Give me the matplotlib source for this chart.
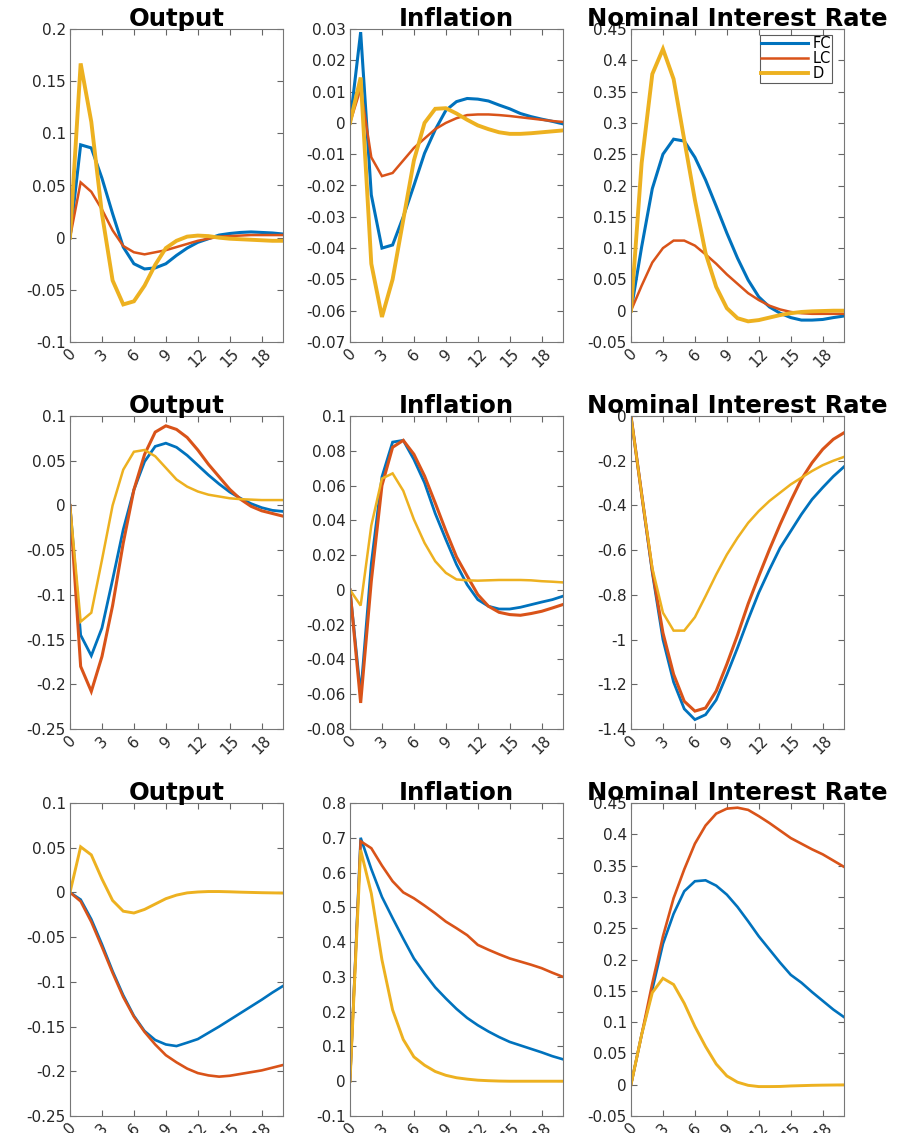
import numpy as np
import matplotlib
matplotlib.use("Agg")
import matplotlib.pyplot as plt
from matplotlib.ticker import FuncFormatter

# horizon 0..20
t = np.arange(21)
names = ["FC", "LC", "D"]
colors = ["#0072BD", "#D95319", "#EDB120"]
titles = ["Output", "Inflation", "Nominal Interest Rate"]

# ---- row 1 ----
out1_fc = [0, 0.089, 0.086, 0.057, 0.023, -0.009, -0.025, -0.030, -0.029, -0.025, -0.017,
           -0.010, -0.0045, -0.001, 0.0025, 0.004, 0.005, 0.0055, 0.005, 0.0045, 0.0035]
out1_lc = [0, 0.053, 0.044, 0.027, 0.007, -0.008, -0.014, -0.016, -0.014, -0.012, -0.009,
           -0.006, -0.003, -0.001, 0.001, 0.0015, 0.002, 0.0025, 0.0025, 0.0025, 0.0025]
out1_d = [0, 0.167, 0.111, 0.023, -0.041, -0.064, -0.061, -0.046, -0.026, -0.010, -0.003,
          0.001, 0.002, 0.0015, 0.0, -0.001, -0.0015, -0.002, -0.0025, -0.003, -0.003]

inf1_fc = [0, 0.029, -0.023, -0.040, -0.039, -0.030, -0.020, -0.0097, -0.0022, 0.004, 0.0068,
           0.0078, 0.0076, 0.007, 0.0057, 0.0045, 0.003, 0.002, 0.0012, 0.0005, -0.0003]
inf1_lc = [0, 0.011, -0.011, -0.017, -0.016, -0.012, -0.008, -0.005, -0.002, 0.0, 0.0015,
           0.0025, 0.0027, 0.0027, 0.0025, 0.0022, 0.0018, 0.0014, 0.001, 0.0006, 0.0003]
inf1_d = [0, 0.0145, -0.045, -0.062, -0.050, -0.031, -0.012, 0.0, 0.0045, 0.0047, 0.003,
          0.001, -0.0008, -0.002, -0.003, -0.0035, -0.0035, -0.0033, -0.003, -0.0027, -0.0024]

int1_fc = [0, 0.102, 0.195, 0.25, 0.274, 0.271, 0.245, 0.209, 0.167, 0.124, 0.084,
           0.049, 0.022, 0.006, -0.004, -0.011, -0.015, -0.015, -0.014, -0.011, -0.0085]
int1_lc = [0, 0.04, 0.077, 0.1, 0.112, 0.112, 0.104, 0.09, 0.075, 0.058, 0.043,
           0.028, 0.017, 0.008, 0.002, -0.002, -0.004, -0.005, -0.005, -0.005, -0.005]
int1_d = [0, 0.236, 0.378, 0.418, 0.37, 0.273, 0.177, 0.092, 0.038, 0.004, -0.012,
          -0.017, -0.015, -0.011, -0.007, -0.004, -0.002, -0.001, -0.0005, 0.0, 0.0]

# ---- row 2 ----
out2_fc = [0, -0.145, -0.168, -0.137, -0.083, -0.027, 0.0175, 0.049, 0.066, 0.0696, 0.065,
           0.056, 0.045, 0.034, 0.024, 0.015, 0.008, 0.002, -0.0025, -0.0055, -0.0067]
out2_lc = [0, -0.18, -0.208, -0.169, -0.112, -0.042, 0.0175, 0.057, 0.082, 0.089, 0.085,
           0.076, 0.062, 0.046, 0.032, 0.018, 0.007, -0.001, -0.006, -0.009, -0.012]
out2_d = [0, -0.13, -0.12, -0.061, 0.0, 0.04, 0.06, 0.062, 0.055, 0.042, 0.029,
          0.021, 0.0156, 0.012, 0.010, 0.008, 0.007, 0.0065, 0.006, 0.006, 0.006]

inf2_fc = [0, -0.060, 0.015, 0.065, 0.085, 0.086, 0.075, 0.0616, 0.044, 0.029, 0.0146,
           0.003, -0.0056, -0.0094, -0.011, -0.011, -0.010, -0.0085, -0.007, -0.0056, -0.0036]
inf2_lc = [0, -0.065, 0.005, 0.060, 0.082, 0.086, 0.078, 0.0655, 0.050, 0.034, 0.019,
           0.008, -0.0027, -0.0094, -0.0129, -0.0142, -0.0146, -0.0136, -0.0123, -0.0104, -0.0084]
inf2_d = [0, -0.009, 0.037, 0.064, 0.067, 0.057, 0.0405, 0.027, 0.0165, 0.0098, 0.006,
          0.0055, 0.0053, 0.0055, 0.0057, 0.0057, 0.0057, 0.0055, 0.005, 0.0047, 0.0043]

int2_fc = [0, -0.35, -0.70, -1.0, -1.19, -1.31, -1.358, -1.336, -1.27, -1.157, -1.037,
           -0.91, -0.79, -0.687, -0.59, -0.515, -0.44, -0.373, -0.32, -0.27, -0.227]
int2_lc = [0, -0.35, -0.69, -0.97, -1.155, -1.276, -1.32, -1.306, -1.23, -1.11, -0.98,
           -0.84, -0.716, -0.597, -0.485, -0.38, -0.283, -0.209, -0.149, -0.104, -0.075]
int2_d = [0, -0.35, -0.68, -0.88, -0.96, -0.96, -0.90, -0.806, -0.709, -0.62, -0.545,
          -0.478, -0.425, -0.38, -0.343, -0.306, -0.276, -0.246, -0.22, -0.2, -0.183]

# ---- row 3 ----
out3_fc = [0, -0.008, -0.03, -0.058, -0.088, -0.115, -0.138, -0.155, -0.165, -0.17, -0.1718,
           -0.168, -0.164, -0.157, -0.150, -0.1425, -0.135, -0.1275, -0.120, -0.112, -0.1046]
out3_lc = [0, -0.01, -0.033, -0.061, -0.09, -0.117, -0.139, -0.156, -0.17, -0.182, -0.19,
           -0.197, -0.202, -0.2046, -0.206, -0.205, -0.203, -0.201, -0.199, -0.196, -0.193]
out3_d = [0, 0.051, 0.042, 0.015, -0.009, -0.021, -0.023, -0.019, -0.013, -0.007, -0.003,
          -0.0005, 0.0005, 0.001, 0.001, 0.0007, 0.0003, 0.0, -0.0003, -0.0005, -0.0007]

inf3_fc = [0, 0.70, 0.61, 0.53, 0.469, 0.41, 0.353, 0.31, 0.27, 0.238, 0.208,
           0.182, 0.161, 0.143, 0.127, 0.113, 0.103, 0.093, 0.083, 0.072, 0.063]
inf3_lc = [0, 0.69, 0.67, 0.62, 0.575, 0.543, 0.526, 0.505, 0.483, 0.459, 0.44,
           0.42, 0.392, 0.378, 0.365, 0.353, 0.344, 0.335, 0.325, 0.312, 0.30]
inf3_d = [0, 0.665, 0.54, 0.349, 0.205, 0.12, 0.07, 0.046, 0.028, 0.017, 0.01,
          0.006, 0.003, 0.0015, 0.0005, 0.0, 0.0, 0.0, 0.0, 0.0, 0.0]

int3_fc = [0, 0.08, 0.152, 0.225, 0.273, 0.309, 0.325, 0.3265, 0.318, 0.3036, 0.284,
           0.261, 0.237, 0.216, 0.195, 0.1755, 0.163, 0.148, 0.134, 0.12, 0.108]
int3_lc = [0, 0.08, 0.162, 0.237, 0.298, 0.344, 0.385, 0.414, 0.433, 0.441, 0.4425,
           0.439, 0.429, 0.418, 0.406, 0.394, 0.385, 0.376, 0.368, 0.358, 0.348]
int3_d = [0, 0.08, 0.147, 0.17, 0.16, 0.13, 0.093, 0.061, 0.033, 0.014, 0.004,
          -0.001, -0.003, -0.003, -0.0028, -0.002, -0.0015, -0.001, -0.0007, -0.0005, -0.0003]

panels = [
    [(out1_fc, out1_lc, out1_d), (inf1_fc, inf1_lc, inf1_d), (int1_fc, int1_lc, int1_d)],
    [(out2_fc, out2_lc, out2_d), (inf2_fc, inf2_lc, inf2_d), (int2_fc, int2_lc, int2_d)],
    [(out3_fc, out3_lc, out3_d), (inf3_fc, inf3_lc, inf3_d), (int3_fc, int3_lc, int3_d)],
]

# y-axis limits and tick step per panel
ylims = [
    [(-0.1, 0.2, 0.05), (-0.07, 0.03, 0.01), (-0.05, 0.45, 0.05)],
    [(-0.25, 0.1, 0.05), (-0.08, 0.1, 0.02), (-1.4, 0.0, 0.2)],
    [(-0.25, 0.1, 0.05), (-0.1, 0.8, 0.1), (-0.05, 0.45, 0.05)],
]

# line widths (FC, LC, D) per row
lws = [[2.2, 1.8, 2.8], [2.0, 2.2, 1.8], [1.9, 1.9, 2.1]]

W, H = 911, 1133
fig = plt.figure(figsize=(W / 100, H / 100), dpi=100)

lefts = [70, 350, 631]
tops = [29, 416, 803]
aw, ah = 213, 313

def fmt(v, pos):
    v = round(v, 6)
    if abs(v) < 1e-9:
        return "0"
    return "%g" % v

for r in range(3):
    for c in range(3):
        ax = fig.add_axes([lefts[c] / W, 1 - (tops[r] + ah) / H, aw / W, ah / H])
        for k in range(3):
            ax.plot(t, panels[r][c][k], color=colors[k], lw=lws[r][k], label=names[k],
                    solid_joinstyle="miter")
        lo, hi, st = ylims[r][c]
        ax.set_ylim(lo, hi)
        ax.set_yticks(np.arange(lo, hi + st / 2, st))
        ax.yaxis.set_major_formatter(FuncFormatter(fmt))
        ax.set_xlim(0, 20)
        ax.set_xticks(np.arange(0, 19, 3))
        ax.tick_params(direction="in", top=True, right=True, length=4, width=0.8,
                       color="#666666", labelcolor="#262626", labelsize=11, pad=3)
        for lab in ax.get_xticklabels():
            lab.set_rotation(45)
            lab.set_ha("center")
            lab.set_va("top")
        for s in ax.spines.values():
            s.set_color("#777777")
            s.set_linewidth(0.8)
        ax.set_title(titles[c], fontsize=17.5, fontweight="bold", pad=2)
        if r == 0 and c == 2:
            leg = ax.legend(loc="upper right", bbox_to_anchor=(1 - 6 / aw, 1), fontsize=10.5,
                            frameon=True, fancybox=False, edgecolor="#333333",
                            handlelength=3.2, handletextpad=0.3, borderaxespad=0.4,
                            borderpad=0.1, labelspacing=0.0)
            leg.get_frame().set_linewidth(0.8)

fig.savefig("out.png", dpi=100)
